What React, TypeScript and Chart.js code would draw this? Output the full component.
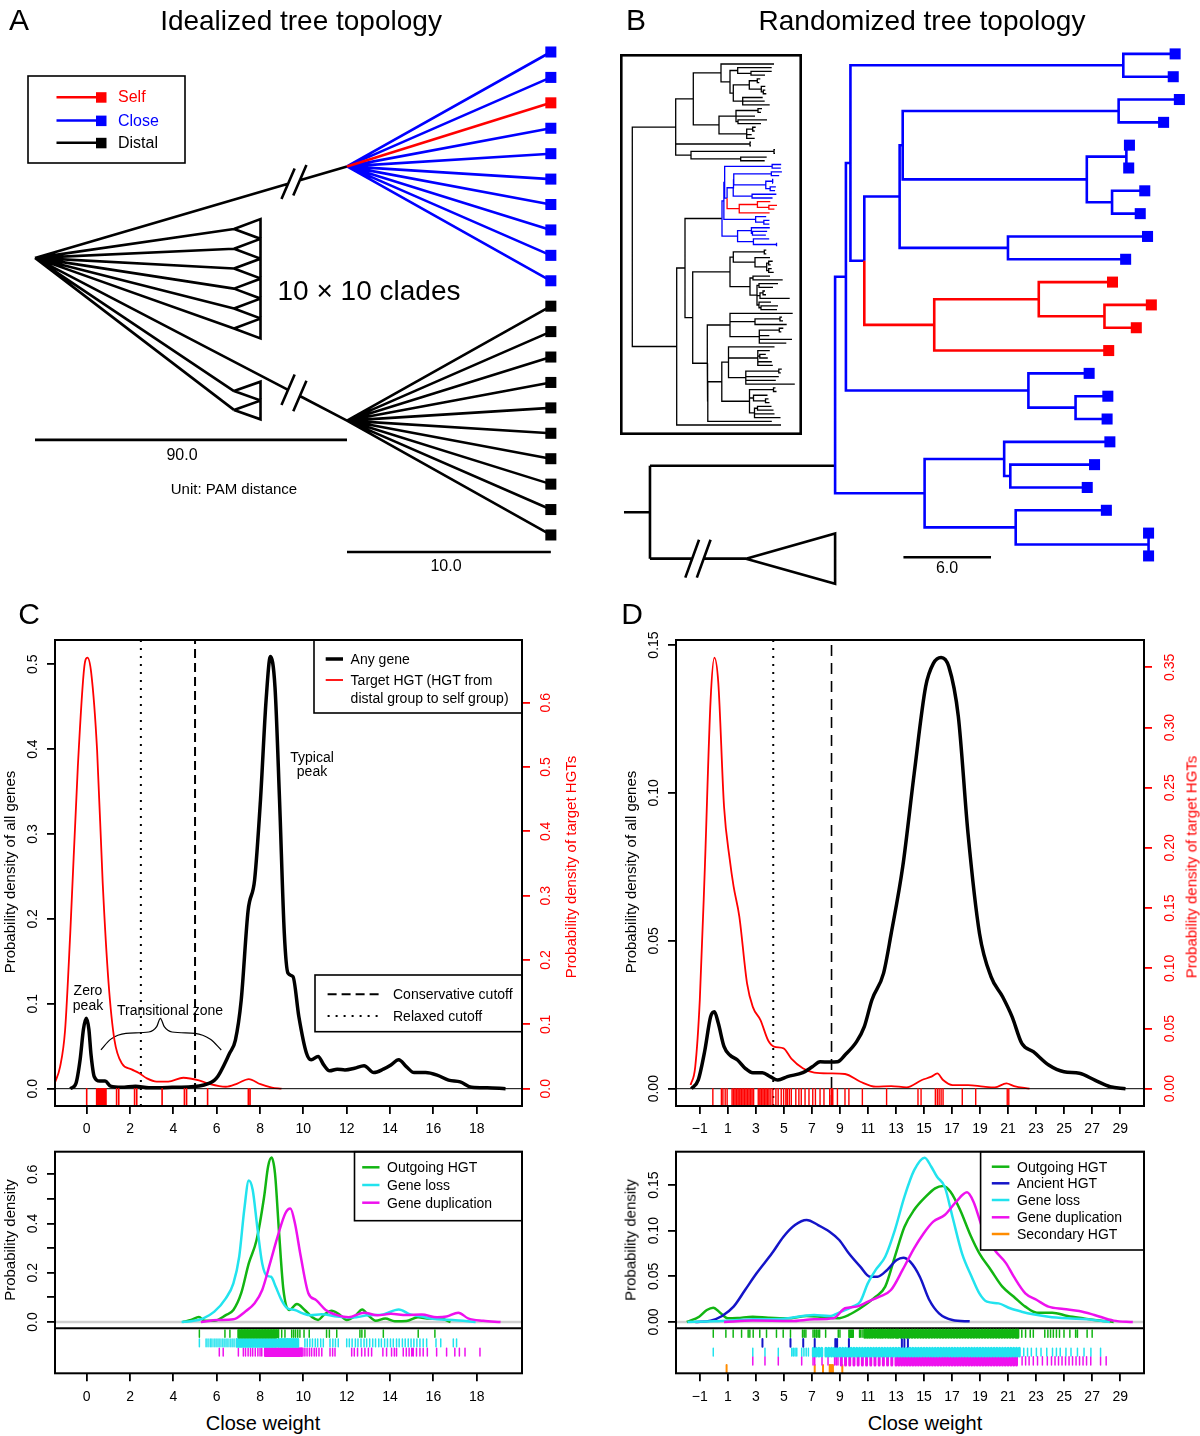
import React, { useEffect, useRef } from 'react';
import { Chart, registerables } from 'chart.js';

Chart.register(...registerables);

const FONT = "'Liberation Sans', Arial, Helvetica, sans-serif";
Chart.defaults.font.family = FONT;

const BLACK = '#000000';
const RED = '#FF0000';
const BLUE = '#0000FF';
const GREEN = '#12B512';
const CYAN = '#22E3EE';
const MAGENTA = '#EE11EE';
const NAVY = '#1414C8';
const ORANGE = '#FF8C00';
const GRAY = '#CFCFCF';

/* ======================= DATA ======================= */

// ---- Panel A : idealized tree ----
const A_DEEP_BRANCH = 90.0;
const A_TIP_BRANCH = 10.0;
const A_TIP_STRETCH = 5.88;
const A_CLOSE_COUNT = 10;
const A_DISTAL_COUNT = 10;
const A_SELF_INDEX = 2;
const A_ROOT_SLOT = 8.1;
const A_CLADE_APEX_SLOT = [6.96, 7.74, 8.52, 9.31, 10.09, 10.88, 13.34, 14.08];
const A_CLADE_HALF = [0.39, 0.39, 0.39, 0.39, 0.39, 0.39, 0.37, 0.37];
const A_CLADE_APEX_DIST = 57.4;
const A_CLADE_DEPTH = 7.65;
const A_BREAK_DIST = [73.0, 76.4];
const A_BAR_SLOTS = [15.26, 19.67];

// ---- Panel B : randomized tree (branch lengths in PAM) ----
const B_N12 = '(:3.55,:3.42)';
const B_D = '(((:4.16,:3.08):14.79,((:0.21,:0.16):2.71,(:2.24,:1.93):1.73):12.61):0.21,(:9.56,:8.06):7.42)';
const B_E = '((:5.05,(:3.21,:2.18):4.5):7.16,:11.95)';
const B_C = '(' + B_D + ':2.42,' + B_E + 'r:4.79)';
const B_A = '((' + B_N12 + ':18.69,' + B_C + ':0.95):0.31,(:4.16,(:2.21,:2.16):3.23):12.5)';
const B_Z = '((:7.24,(:5.77,:5.27):0.42):5.45,(:6.21,(:0,:0):9.1):6.24)';
const B_CLADE_NEWICK = '(' + B_A + 'b:0.74,' + B_Z + 'b:6.13)';
const B_LINK_SLOT = 18.05;
const B_OUT_NODE_X = -12.68;
const B_OUT_SLOT = 22.12;
const B_ROOT_STUB_X = -14.46;
const B_COLLAPSED_APEX_X = -6.1;
const B_COLLAPSED_HALF = 1.1;
const B_BREAK_X = [-9.79, -9.0];
const B_BAR = [4.68, 10.68];
const B_BAR_SLOT = 22.06;

// ---- Panel B inset : whole tree (layout units) ----
const INSET_N3 = '(:53,((:34,(:20.7,:14):13.3):7.7,(((:3,:2):8,(:4,(:2,:3):2):12):16,(:20,:22,:27):9.4):3.3):9)';
const INSET_N4 = '(((:4,:3):22,:19,(:29,:23):2):17,((:3,:2):6,:5,:8):27.7)';
const INSET_TOP = '((' + INSET_N3 + ':27.7,' + INSET_N4 + ':25.7):17.6,(:1,:1):74.3,((:1,:1):83,(:26,:24):49.7):15.3)';
const INSET_S1 = '(((:2,:2):31,(:15,((:4,:2):2,(:3,:5):2):11.7):21.7):3.3,((:17,:29.7):3,((:19,:14):2,((:2,:3):3,:29.7):3,(:12,(:17,:16):2):2):7):20)';
const INSET_S2 = '(:62.7,((:2,:3):25,:31.7):25,((:4,:2):20,:10,:32.7,:27):29.3)';
const INSET_S3 = '(:46,(:12,(:6,:8):2,:14,:15):29.3,((:3,:2):33,:33,:30,:49):17.3)';
const INSET_S4 = '((:2,:3):24,(:14,(:3,:4):12):4,((:14,:16):3,:20,:26):5)';
const INSET_Q4 = '(' + INSET_S3 + ':6.7,' + INSET_S4 + ':27.7)';
const INSET_Q3 = '(' + INSET_Q4 + ':14,:64)';
const INSET_Q2 = '(' + INSET_S2 + ':22.7,' + INSET_Q3 + ':0.5)';
const INSET_P = '(' + INSET_S1 + ':37.3,' + INSET_Q2 + ':14.6)';
const INSET_M = '(Z:37,' + INSET_P + ':7.7)';
const INSET_BOTTOM = '(' + INSET_M + ':8.3,:104.3)';
const INSET_NEWICK = '(' + INSET_TOP + ':43.4,' + INSET_BOTTOM + ':44.4)';
const INSET_CLADE_SCALE = 2.54;
const INSET_ROOT_X = 12.3;

// ---- Panel C top ----
const C_X_TICKS = [0, 2, 4, 6, 8, 10, 12, 14, 16, 18];
const C_Y_TICKS = [0, 0.1, 0.2, 0.3, 0.4, 0.5];
const C_Y2_TICKS = [0, 0.1, 0.2, 0.3, 0.4, 0.5, 0.6];
const C_RELAXED_CUTOFF = 2.5;
const C_CONSERVATIVE_CUTOFF = 5.0;
const C_ANY_GENE: [number, number][] = [
  [-0.76, 0], [-0.5, 0.006], [-0.3, 0.035], [-0.15, 0.07], [-0.02, 0.083], [0.1, 0.07], [0.2, 0.04], [0.35, 0.014],
  [0.6, 0.009], [0.85, 0.009], [1.1, 0.003], [1.6, 0.0016], [2.25, 0.003], [2.87, 0.001], [3.94, 0.0016], [4.82, 0.0024],
  [5.36, 0.004], [5.98, 0.012], [6.6, 0.042], [6.86, 0.057], [7.13, 0.104], [7.45, 0.21], [7.75, 0.246], [8.02, 0.34],
  [8.28, 0.458], [8.48, 0.509], [8.69, 0.473], [8.9, 0.34], [9.12, 0.183], [9.29, 0.136], [9.52, 0.132], [9.79, 0.085],
  [10.14, 0.042], [10.36, 0.034], [10.68, 0.038], [10.94, 0.028], [11.21, 0.021], [11.56, 0.023], [11.92, 0.022],
  [12.36, 0.024], [12.8, 0.027], [13.25, 0.019], [13.69, 0.023], [14.04, 0.028], [14.4, 0.034], [14.75, 0.026],
  [15.11, 0.019], [15.64, 0.019], [16.17, 0.016], [16.7, 0.01], [17.24, 0.008], [17.77, 0.0016], [18.48, 0.001], [19.33, 0],
];
const C_TARGET_HGT: [number, number][] = [
  [-1.47, 0.009], [-1.23, 0.034], [-1.0, 0.09], [-0.76, 0.241], [-0.41, 0.5], [-0.11, 0.656], [0.035, 0.67], [0.21, 0.646],
  [0.48, 0.526], [0.74, 0.319], [1.01, 0.164], [1.28, 0.076], [1.63, 0.039], [2.07, 0.03], [2.43, 0.024], [2.78, 0.016],
  [3.23, 0.011], [3.76, 0.011], [4.46, 0.017], [5.18, 0.013], [5.7, 0.007], [6.42, 0.003], [6.95, 0.008], [7.48, 0.015],
  [8.02, 0.007], [8.55, 0.0016], [8.99, 0],
];
const C_TARGET_RUG = [0, 0.46, 0.51, 0.58, 0.65, 0.71, 0.77, 0.83, 0.89, 1.38, 1.48, 2.21, 2.31, 3.48, 4.51, 4.61, 5.58, 7.46, 7.54];
const C_BRACE: [number, number][] = [
  [0.656, 0.0456], [1.1, 0.0581], [1.81, 0.0652], [2.87, 0.0668], [3.23, 0.0731], [3.4, 0.0829],
  [3.58, 0.0731], [3.94, 0.0668], [5.0, 0.0652], [5.71, 0.0581], [6.21, 0.0456],
];

// ---- Panel C bottom ----
const C2_Y_TICKS = [0, 0.1, 0.2, 0.3, 0.4, 0.5, 0.6];
const C2_Y_LABELS = [0, 0.2, 0.4, 0.6];
const C2_OUTGOING: [number, number][] = [
  [4.43, 0], [4.82, 0.008], [5.18, 0.02], [5.44, 0.005], [5.89, 0.005], [6.42, 0.028], [6.77, 0.049], [7.13, 0.117],
  [7.48, 0.238], [7.84, 0.333], [8.19, 0.51], [8.37, 0.631], [8.53, 0.668], [8.69, 0.604], [8.87, 0.374], [9.08, 0.13],
  [9.35, 0.049], [9.7, 0.073], [10.06, 0.049], [10.41, 0.019], [10.68, 0.008], [10.94, 0.028], [11.3, 0.046],
  [11.65, 0.031], [12.0, 0.008], [12.36, 0.022], [12.72, 0.051], [12.98, 0.028], [13.34, 0.005], [13.78, 0.014],
  [14.22, 0.003], [14.75, 0.004], [15.29, 0.019], [15.82, 0.014], [16.17, 0.018], [16.79, 0],
];
const C2_LOSS: [number, number][] = [
  [4.38, 0], [4.82, 0.003], [5.36, 0.014], [5.89, 0.042], [6.42, 0.096], [6.77, 0.157], [7.04, 0.266], [7.27, 0.455],
  [7.48, 0.575], [7.66, 0.537], [7.87, 0.388], [8.1, 0.238], [8.33, 0.187], [8.51, 0.184], [8.72, 0.144], [8.99, 0.089],
  [9.26, 0.056], [9.61, 0.049], [9.97, 0.035], [10.32, 0.027], [10.85, 0.031], [11.56, 0.022], [12.27, 0.018],
  [12.98, 0.027], [13.69, 0.031], [14.4, 0.051], [14.93, 0.031], [15.46, 0.022], [16.17, 0.011], [16.88, 0.008], [17.95, 0],
];
const C2_DUP: [number, number][] = [
  [5.27, 0], [6.06, 0.008], [6.77, 0.011], [7.31, 0.042], [7.75, 0.076], [8.1, 0.13], [8.46, 0.238], [8.81, 0.347],
  [9.17, 0.442], [9.4, 0.461], [9.61, 0.401], [9.88, 0.266], [10.23, 0.117], [10.59, 0.089], [11.03, 0.049],
  [11.56, 0.028], [12.09, 0.019], [12.8, 0.038], [13.42, 0.027], [14.04, 0.033], [14.75, 0.028], [15.46, 0.03],
  [16.17, 0.019], [16.61, 0.022], [17.15, 0.038], [17.6, 0.015], [18.3, 0.005], [19.1, 0],
];
const C2_OUT_RUG = [
  5.2, 6.38, 6.61, 9.0, 9.15, 9.46, 9.55, 9.64, 9.74, 9.84, 10.03, 10.27, 11.07, 11.2, 11.54, 12.61, 12.7, 12.84, 13.69,
  15.3, 16.07,
];
const C2_OUT_RUG_DENSE = [
  7.0, 7.07, 7.14, 7.21, 7.28, 7.35, 7.42, 7.49, 7.56, 7.63, 7.7, 7.77, 7.84, 7.91, 7.98, 8.05, 8.12, 8.19, 8.26, 8.33,
  8.4, 8.47, 8.54, 8.61, 8.68, 8.75, 8.84,
];
const C2_LOSS_RUG = [
  5.2, 5.51, 5.6, 5.7, 5.78, 5.88, 5.97, 6.06, 6.15, 6.25, 6.34, 6.43, 6.52, 6.62, 6.71, 6.8, 10.07, 10.18, 10.3, 10.42,
  10.55, 10.66, 10.8, 10.92, 11.23, 11.36, 11.48, 11.61, 12.0, 12.12, 12.25, 12.4, 12.52, 12.66, 12.8, 12.92, 13.06,
  13.2, 13.33, 13.48, 13.6, 13.75, 13.88, 14.02, 14.15, 14.3, 14.42, 14.57, 14.7, 14.84, 14.97, 15.1, 15.24, 15.38,
  15.53, 15.69, 16.12, 16.34, 16.92, 17.07,
];
const C2_LOSS_RUG_DENSE = [
  6.92, 6.99, 7.06, 7.13, 7.2, 7.27, 7.34, 7.41, 7.48, 7.55, 7.62, 7.69, 7.76, 7.83, 7.9, 7.97, 8.04, 8.11, 8.18, 8.25,
  8.32, 8.39, 8.46, 8.53, 8.6, 8.67, 8.74, 8.84, 8.92, 8.99, 9.06, 9.13, 9.2, 9.27, 9.34, 9.41, 9.48, 9.55, 9.62, 9.69, 9.76,
];
const C2_DUP_RUG = [
  6.12, 6.3, 7.0, 7.23, 7.33, 7.45, 7.56, 7.66, 7.78, 7.9, 8.0, 8.08, 9.98, 10.07, 10.17, 10.28, 10.38, 10.5, 10.6,
  10.72, 10.85, 11.23, 11.35, 11.46, 12.23, 12.35, 12.5, 12.69, 12.84, 13.0, 13.15, 13.67, 13.84, 14.07, 14.2, 14.3,
  14.61, 14.75, 14.88, 15.0, 15.07, 15.22, 15.38, 15.53, 15.72, 16.15, 16.61, 16.99, 17.2, 17.46, 18.15,
];
const C2_DUP_RUG_DENSE = [
  8.23, 8.3, 8.37, 8.44, 8.51, 8.58, 8.65, 8.72, 8.79, 8.86, 8.93, 9.0, 9.07, 9.14, 9.21, 9.28, 9.35, 9.42, 9.49, 9.56,
  9.63, 9.7, 9.77, 9.84, 9.92,
];

// ---- Panel D top ----
const D_X_TICKS = [-1, 1, 3, 5, 7, 9, 11, 13, 15, 17, 19, 21, 23, 25, 27, 29];
const D_Y_TICKS = [0, 0.05, 0.1, 0.15];
const D_Y2_TICKS = [0, 0.05, 0.1, 0.15, 0.2, 0.25, 0.3, 0.35];
const D_RELAXED_CUTOFF = 4.24;
const D_CONSERVATIVE_CUTOFF = 8.4;
const D_ANY_GENE: [number, number][] = [
  [-1.6, 0], [-1.11, 0.003], [-0.64, 0.013], [-0.23, 0.0243], [0.04, 0.026], [0.32, 0.0221], [0.73, 0.0142],
  [1.14, 0.0114], [1.69, 0.0097], [2.24, 0.0069], [2.78, 0.0054], [3.47, 0.0054], [4.02, 0.0041], [4.57, 0.0029],
  [5.25, 0.0041], [6.35, 0.0054], [7.03, 0.0074], [7.58, 0.0091], [8.27, 0.009], [8.82, 0.0091], [9.36, 0.0114],
  [10.19, 0.0159], [10.74, 0.021], [11.28, 0.03], [12.11, 0.039], [12.66, 0.0525], [13.48, 0.075], [14.3, 0.1066],
  [15.12, 0.136], [15.67, 0.1438], [16.22, 0.1458], [16.77, 0.1427], [17.45, 0.1258], [18.14, 0.0863], [18.96, 0.0525],
  [19.78, 0.0379], [20.61, 0.0311], [21.29, 0.0243], [21.98, 0.0153], [22.8, 0.0125], [23.9, 0.008], [24.99, 0.0057],
  [26.09, 0.0052], [27.19, 0.0029], [28.28, 0.0007], [29.38, 0],
];
const D_TARGET_HGT: [number, number][] = [
  [-1.66, 0.003], [-1.33, 0.018], [-1.0, 0.074], [-0.64, 0.184], [-0.23, 0.323], [0.04, 0.358], [0.32, 0.337],
  [0.73, 0.234], [1.14, 0.19], [1.41, 0.168], [1.82, 0.143], [2.37, 0.0875], [2.78, 0.068], [3.33, 0.057], [3.88, 0.04],
  [4.29, 0.035], [4.98, 0.0335], [5.53, 0.025], [6.35, 0.017], [7.17, 0.0133], [8.27, 0.0127], [9.36, 0.0122],
  [10.46, 0.0058], [11.56, 0.0017], [12.66, 0.0022], [13.75, 0.0011], [14.85, 0.0072], [15.53, 0.01], [15.95, 0.0127],
  [16.36, 0.0072], [17.04, 0.003], [18.14, 0.003], [19.24, 0.0017], [20.06, 0.0011], [20.88, 0.0044], [21.43, 0.0022],
  [22.53, 0],
];
const D_TARGET_RUG = [
  -0.07, 0.54, 0.65, 0.81, 0.95, 1.3, 1.41, 1.52, 1.63, 1.74, 1.85, 1.96, 2.07, 2.18, 2.29, 2.4, 2.51, 2.62, 2.73, 2.84,
  3.17, 3.28, 3.39, 3.5, 3.61, 3.72, 3.83, 3.94, 4.07, 4.21, 4.43, 4.59, 4.81, 4.98, 5.14, 5.25, 5.39, 5.53, 5.85, 6.07,
  6.24, 6.51, 6.79, 7.06, 7.25, 7.58, 7.86, 8.27, 8.4, 8.49, 8.82, 9.36, 9.64, 10.6, 12.33, 14.57, 14.79, 15.81, 15.95,
  16.08, 16.22, 16.36, 17.73, 18.69, 20.94, 21.05,
];

// ---- Panel D bottom ----
const D2_Y_TICKS = [0, 0.05, 0.1, 0.15];
const D2_OUTGOING: [number, number][] = [
  [-1.93, 0], [-1.05, 0.0058], [-0.5, 0.0131], [-0.04, 0.0157], [0.45, 0.0102], [1.0, 0.004], [1.68, 0.0044],
  [2.78, 0.0058], [3.88, 0.0047], [5.25, 0.004], [6.62, 0.0066], [7.71, 0.0055], [8.81, 0.004], [9.63, 0.0077],
  [10.45, 0.015], [11.55, 0.0277], [12.23, 0.0387], [12.92, 0.0715], [13.6, 0.104], [14.29, 0.1226], [15.11, 0.137],
  [15.79, 0.1464], [16.34, 0.149], [16.89, 0.1427], [17.58, 0.1226], [18.26, 0.097], [18.95, 0.0752], [19.77, 0.057],
  [20.59, 0.0387], [21.41, 0.0277], [22.23, 0.0168], [23.05, 0.0102], [24.15, 0.0102], [25.25, 0.0066], [26.34, 0.004],
  [27.16, 0.0022], [28.53, 0],
];
const D2_ANCIENT: [number, number][] = [
  [-1.33, 0], [-0.23, 0.0015], [0.59, 0.0066], [1.41, 0.0168], [2.23, 0.035], [3.05, 0.0533], [4.15, 0.0752],
  [4.97, 0.0934], [5.79, 0.1062], [6.62, 0.1117], [7.44, 0.1062], [8.26, 0.0989], [8.95, 0.0898], [9.63, 0.0752],
  [10.45, 0.0606], [11.14, 0.0496], [11.68, 0.0496], [12.37, 0.057], [13.05, 0.0679], [13.52, 0.0704], [14.01, 0.066],
  [14.7, 0.0496], [15.38, 0.0241], [16.07, 0.0095], [17.03, 0.0022], [18.26, 0.0007],
];
const D2_LOSS: [number, number][] = [
  [-1.88, 0], [0.04, 0.0007], [2.78, 0.0029], [4.97, 0.0036], [6.34, 0.0066], [7.16, 0.0077], [8.26, 0.0066],
  [9.08, 0.0113], [9.9, 0.0168], [10.45, 0.0223], [10.99, 0.0423], [11.55, 0.057], [12.23, 0.0715], [12.92, 0.1007],
  [13.6, 0.137], [14.29, 0.166], [15.05, 0.18], [15.52, 0.17], [15.93, 0.159], [16.48, 0.148], [17.03, 0.1153],
  [17.71, 0.0752], [18.4, 0.0496], [18.95, 0.0314], [19.49, 0.0223], [20.32, 0.0204], [21.14, 0.015], [21.96, 0.0113],
  [22.78, 0.0084], [23.88, 0.0058], [25.25, 0.004], [26.62, 0.0029], [28.26, 0],
];
const D2_DUP: [number, number][] = [
  [0.73, 0], [2.78, 0.0015], [5.52, 0.0011], [7.16, 0.0029], [8.53, 0.004], [9.36, 0.015], [10.18, 0.0168],
  [11.0, 0.0223], [11.82, 0.0277], [12.64, 0.035], [13.47, 0.057], [14.29, 0.0807], [14.97, 0.097], [15.66, 0.1099],
  [16.48, 0.1172], [17.3, 0.1318], [18.07, 0.142], [18.53, 0.1318], [19.22, 0.1007], [20.04, 0.0788], [20.86, 0.0642],
  [21.41, 0.0496], [22.23, 0.0314], [23.05, 0.0241], [23.88, 0.0168], [24.97, 0.0142], [26.07, 0.012], [27.16, 0.0077],
  [28.53, 0.0015], [29.9, 0],
];
const D2_OUT_RUG = [
  -0.04, 0.86, 1.38, 1.98, 2.45, 2.57, 2.81, 3.28, 3.76, 4.47, 4.95, 5.47, 6.33, 6.45, 6.57, 7.08, 7.2, 7.32, 7.44,
  7.55, 7.98, 8.88, 9.0, 9.64, 9.72, 9.8, 9.88, 9.95, 10.4, 10.5, 10.64, 21.98, 22.25, 22.58, 22.8, 23.62, 23.84, 24.03,
  24.23, 24.45, 24.67, 24.99, 25.41, 25.82, 25.95, 26.64, 27.0,
];
const D2_OUT_RUG_DENSE = [
  10.78, 10.95, 11.12, 11.3, 11.5, 11.7, 11.88, 12.05, 12.25, 12.45, 12.62, 12.8, 13.0, 13.15, 13.35, 13.55, 13.75,
  13.95, 14.15, 14.35, 14.55, 14.75, 14.95, 15.15, 15.35, 15.55, 15.75, 15.95, 16.15, 16.35, 16.55, 16.75, 16.95,
  17.15, 17.35, 17.55, 17.75, 17.95, 18.15, 18.35, 18.55, 18.75, 18.95, 19.15, 19.35, 19.55, 19.75, 19.95, 20.15,
  20.35, 20.55, 20.75, 20.95, 21.15, 21.35, 21.55, 21.7,
];
const D2_ANC_RUG = [3.47, 5.47, 6.38, 7.2, 8.67, 8.8, 9.64, 13.42, 13.6, 13.85];
const D2_LOSS_RUG = [
  -0.04, 2.78, 3.65, 4.6, 5.56, 5.68, 5.8, 5.92, 6.27, 6.43, 6.59, 6.75, 22.12, 22.39, 22.66, 23.02, 23.35, 23.76,
  24.17, 24.45, 24.72, 25.13, 25.49, 25.95, 26.42, 26.91, 27.6,
];
const D2_LOSS_RUG_DENSE = [
  7.1, 7.3, 7.5, 7.7, 8.0, 8.2, 8.4, 8.6, 8.8, 9.0, 9.2, 9.4, 9.6, 9.8, 10.0, 10.2, 10.4, 10.6, 10.8, 11.0, 11.2, 11.4,
  11.6, 11.8, 12.0, 12.2, 12.4, 12.6, 12.8, 13.0, 13.2, 13.4, 13.6, 13.8, 14.0, 14.2, 14.4, 14.6, 14.8, 15.0, 15.2,
  15.4, 15.6, 15.8, 16.0, 16.2, 16.4, 16.6, 16.8, 17.0, 17.2, 17.4, 17.6, 17.8, 18.0, 18.2, 18.4, 18.6, 18.8, 19.0,
  19.2, 19.4, 19.6, 19.8, 20.0, 20.2, 20.4, 20.6, 20.8, 21.0, 21.2, 21.4, 21.6, 21.8,
];
const D2_DUP_RUG = [
  2.78, 3.65, 4.6, 6.27, 7.08, 7.2, 7.72, 8.15, 8.62, 8.74, 8.86, 22.0, 22.25, 22.5, 22.8, 23.1, 23.45, 23.8, 24.1,
  24.35, 24.6, 24.85, 25.1, 25.35, 25.6, 25.85, 26.1, 26.35, 26.6, 26.9, 27.6, 28.0,
];
const D2_DUP_RUG_DENSE = [
  9.1, 9.4, 9.7, 10.0, 10.3, 10.6, 10.9, 11.2, 11.5, 11.8, 12.1, 12.4, 12.7, 13.0, 13.2, 13.4, 13.6, 13.8, 14.0, 14.2,
  14.4, 14.6, 14.8, 15.0, 15.2, 15.4, 15.6, 15.8, 16.0, 16.2, 16.4, 16.6, 16.8, 17.0, 17.2, 17.4, 17.6, 17.8, 18.0,
  18.2, 18.4, 18.6, 18.8, 19.0, 19.2, 19.4, 19.6, 19.8, 20.0, 20.2, 20.4, 20.6, 20.8, 21.0, 21.2, 21.4, 21.6,
];
const D2_SEC_RUG = [0.91, 7.2, 7.79, 8.27, 8.35, 8.43, 8.5, 9.17];

/* ======================= HELPERS ======================= */

type Pt = { x: number; y: number | null };

const pts = (pairs: [number, number][]): Pt[] => pairs.map(([x, y]) => ({ x, y }));
const addPath = (arr: Pt[], path: [number, number][]) => {
  path.forEach(([x, y]) => arr.push({ x, y }));
  arr.push({ x: path[path.length - 1][0], y: null });
};
const rug = (values: number[], y0: number, y1: number): Pt[] => {
  const out: Pt[] = [];
  values.forEach((v) => out.push({ x: v, y: y0 }, { x: v, y: y1 }, { x: v, y: null }));
  return out;
};
const mean = (a: number[]) => a.reduce((s, v) => s + v, 0) / a.length;

function ln(data: Pt[], color: string, width: number, extra: any = {}) {
  return {
    data, showLine: true, borderColor: color, backgroundColor: color, borderWidth: width,
    pointRadius: 0, pointHoverRadius: 0, pointHitRadius: 0, fill: false, tension: 0, spanGaps: false,
    borderCapStyle: 'butt', borderJoinStyle: 'round', ...extra,
  };
}
const SMOOTH = { cubicInterpolationMode: 'monotone', tension: 0.4 };
function squares(data: Pt[], color: string) {
  return { data, showLine: false, pointStyle: 'rect', pointRadius: 7.8, pointHoverRadius: 7.8,
    backgroundColor: color, borderColor: color, borderWidth: 0, pointBorderWidth: 0 };
}

// newick-like tree helpers
function parseNewick(s: string) {
  let i = 0;
  const node = (): any => {
    const n: any = { ch: [], bl: 0, col: '' };
    if (s[i] === '(') {
      i++;
      n.ch.push(node());
      while (s[i] === ',') { i++; n.ch.push(node()); }
      i++;
    }
    let lab = '';
    while (i < s.length && /[A-Za-z]/.test(s[i])) lab += s[i++];
    n.col = lab;
    if (s[i] === ':') {
      i++;
      let num = '';
      while (i < s.length && /[0-9.]/.test(s[i])) num += s[i++];
      n.bl = parseFloat(num);
    }
    return n;
  };
  return node();
}
function scaleTree(n: any, k: number) { n.bl *= k; n.ch.forEach((c: any) => scaleTree(c, k)); return n; }
function embed(n: any, key: string, sub: any) {
  if (n.col === key) { n.ch = sub.ch; n.col = ''; }
  n.ch.forEach((c: any) => embed(c, key, sub));
}
function layoutTree(root: any, x0: number) {
  let leaf = 0;
  const leaves: any[] = [];
  const rec = (n: any, px: number, pc: string) => {
    n.x = px + n.bl;
    n.c = n.col || pc;
    if (!n.ch.length) { n.y = leaf++; leaves.push(n); }
    else {
      n.ch.forEach((c: any) => rec(c, n.x, n.c));
      n.y = (n.ch[0].y + n.ch[n.ch.length - 1].y) / 2;
    }
  };
  root.bl = 0;
  rec(root, x0, 'k');
  return leaves;
}
function treeSegs(root: any) {
  const out: any = { k: [], b: [], r: [] };
  const rec = (n: any) => n.ch.forEach((c: any) => {
    out[c.c].push({ x: n.x, y: n.y }, { x: n.x, y: c.y }, { x: c.x, y: c.y }, { x: c.x, y: null });
    rec(c);
  });
  rec(root);
  return out;
}

// canvas decoration helpers
function strokeBox(ctx: any, a: any, lw = 2) {
  ctx.save(); ctx.setLineDash([]); ctx.lineWidth = lw; ctx.strokeStyle = BLACK;
  ctx.strokeRect(a.left, a.top, a.right - a.left, a.bottom - a.top); ctx.restore();
}
function legendFrame(ctx: any, x1: number, y1: number, x2: number, y2: number) {
  ctx.save(); ctx.fillStyle = '#fff'; ctx.fillRect(x1, y1, x2 - x1, y2 - y1);
  ctx.setLineDash([]); ctx.lineWidth = 1.6; ctx.strokeStyle = BLACK; ctx.strokeRect(x1, y1, x2 - x1, y2 - y1); ctx.restore();
}
function sample(ctx: any, x1: number, x2: number, y: number, color: string, lw: number, dash: number[] = []) {
  ctx.save(); ctx.beginPath(); ctx.setLineDash(dash); ctx.strokeStyle = color; ctx.lineWidth = lw;
  ctx.moveTo(x1, y); ctx.lineTo(x2, y); ctx.stroke(); ctx.restore();
}
function rotLabels(ctx: any, chart: any, id: string, values: number[], digits: number, x: number, color: string) {
  const s = chart.scales[id];
  ctx.save();
  ctx.fillStyle = color; ctx.font = `14px ${FONT}`; ctx.textAlign = 'center'; ctx.textBaseline = 'middle';
  values.forEach((v) => {
    const y = s.getPixelForValue(v);
    ctx.save(); ctx.translate(x, y); ctx.rotate(-Math.PI / 2); ctx.fillText(v.toFixed(digits), 0, 1); ctx.restore();
  });
  ctx.restore();
}
const decor = (id: string, fn: (ctx: any, chart: any, a: any) => void) => ({
  id,
  afterDatasetsDraw(chart: any) { const ctx = chart.ctx; ctx.save(); fn(ctx, chart, chart.chartArea); ctx.restore(); },
});

const BASE = {
  responsive: false, maintainAspectRatio: false, animation: false, devicePixelRatio: 1, events: [],
  plugins: { legend: { display: false }, tooltip: { enabled: false }, title: { display: false } },
};

const fmtX = (v: number) => (v < 0 ? '\u2212' + Math.abs(v) : String(v));
function xScale(min: number, max: number, ticks: number[], height: number) {
  return {
    type: 'linear', position: 'bottom', min, max,
    afterBuildTicks: (s: any) => { s.ticks = ticks.map((v) => ({ value: v })); },
    afterFit: (s: any) => { s.height = height; },
    ticks: { autoSkip: false, maxRotation: 0, minRotation: 0, color: BLACK, font: { size: 14, family: FONT }, padding: 7,
      callback: (v: any) => fmtX(Number(v)) },
    grid: { drawOnChartArea: false, drawTicks: true, tickLength: 8, color: BLACK, lineWidth: 1.8 },
    border: { display: false },
  };
}
function yScale(position: string, min: number, max: number, ticks: number[], width: number, color: string) {
  return {
    type: 'linear', position, min, max,
    afterBuildTicks: (s: any) => { s.ticks = ticks.map((v) => ({ value: v })); },
    afterFit: (s: any) => { s.width = width; },
    ticks: { display: false },
    grid: { drawOnChartArea: false, drawTicks: true, tickLength: 8, color, lineWidth: 1.8 },
    border: { display: false },
  };
}
const hidden = (xmin: number, xmax: number, ymin: number, ymax: number) => ({
  x: { type: 'linear', display: false, min: xmin, max: xmax },
  y: { type: 'linear', display: false, min: ymin, max: ymax, reverse: true },
});

/* ======================= CHARTS ======================= */

function makeA() {
  const tipX = A_DEEP_BRANCH + A_TIP_BRANCH * A_TIP_STRETCH;
  const closeSlots = Array.from({ length: A_CLOSE_COUNT }, (_, i) => i);
  const distalSlots = Array.from({ length: A_DISTAL_COUNT }, (_, i) => A_CLOSE_COUNT + i);
  const upper = { x: A_DEEP_BRANCH, y: mean(closeSlots) };
  const lower = { x: A_DEEP_BRANCH, y: mean(distalSlots) };
  const root = { x: 0, y: A_ROOT_SLOT };
  const black: Pt[] = [], blue: Pt[] = [], red: Pt[] = [];
  A_CLADE_APEX_SLOT.forEach((s, i) => {
    const h = A_CLADE_HALF[i];
    const e = A_CLADE_APEX_DIST + A_CLADE_DEPTH;
    addPath(black, [[root.x, root.y], [A_CLADE_APEX_DIST, s]]);
    addPath(black, [[A_CLADE_APEX_DIST, s], [e, s - h], [e, s + h], [A_CLADE_APEX_DIST, s]]);
  });
  [upper, lower].forEach((node) => {
    const at = (x: number) => root.y + (node.y - root.y) * (x / node.x);
    const [b1, b2] = A_BREAK_DIST;
    addPath(black, [[root.x, root.y], [b1, at(b1)]]);
    addPath(black, [[b2, at(b2)], [node.x, node.y]]);
    A_BREAK_DIST.forEach((bx) => addPath(black, [[bx - 1.9, at(bx) + 0.6], [bx + 1.9, at(bx) - 0.6]]));
  });
  closeSlots.forEach((s) => addPath(s === A_SELF_INDEX ? red : blue, [[upper.x, upper.y], [tipX, s]]));
  distalSlots.forEach((s) => addPath(black, [[lower.x, lower.y], [tipX, s]]));
  addPath(black, [[0, A_BAR_SLOTS[0]], [A_DEEP_BRANCH, A_BAR_SLOTS[0]]]);
  addPath(black, [[A_DEEP_BRANCH, A_BAR_SLOTS[1]], [tipX, A_BAR_SLOTS[1]]]);
  const sq = (slots: number[]) => slots.map((s) => ({ x: tipX, y: s }));
  return {
    type: 'scatter',
    data: {
      datasets: [
        squares(sq(closeSlots.filter((s) => s === A_SELF_INDEX)), RED),
        squares(sq(closeSlots.filter((s) => s !== A_SELF_INDEX)), BLUE),
        squares(sq(distalSlots), BLACK),
        ln(red, RED, 2.6, { borderJoinStyle: 'miter' }),
        ln(blue, BLUE, 2.6, { borderJoinStyle: 'miter' }),
        ln(black, BLACK, 2.6, { borderJoinStyle: 'miter' }),
      ],
    },
    options: { ...BASE, layout: { padding: 0, autoPadding: false }, scales: hidden(-10.096, 162.98, -2.0456, 21.165) },
    plugins: [decor('aLegend', (ctx) => {
      legendFrame(ctx, 28, 76, 185, 163);
      const rows: [number, string][] = [[97.2, RED], [120.6, BLUE], [142.8, BLACK]];
      rows.forEach(([y, c]) => {
        sample(ctx, 56.5, 100, y, c, 2.5);
        ctx.fillStyle = c; ctx.fillRect(96, y - 5, 10.5, 10.5);
      });
    })],
  };
}

function makeB() {
  const tree = parseNewick(B_CLADE_NEWICK);
  const leaves = layoutTree(tree, 0);
  const segs = treeSegs(tree);
  const black: Pt[] = [];
  const stubY = (B_LINK_SLOT + B_OUT_SLOT) / 2;
  addPath(black, [[B_ROOT_STUB_X, stubY], [B_OUT_NODE_X, stubY]]);
  addPath(black, [[B_OUT_NODE_X, B_LINK_SLOT], [B_OUT_NODE_X, B_OUT_SLOT]]);
  addPath(black, [[B_OUT_NODE_X, B_LINK_SLOT], [0, B_LINK_SLOT]]);
  addPath(black, [[B_OUT_NODE_X, B_OUT_SLOT], [B_BREAK_X[0], B_OUT_SLOT]]);
  addPath(black, [[B_BREAK_X[1], B_OUT_SLOT], [B_COLLAPSED_APEX_X, B_OUT_SLOT]]);
  B_BREAK_X.forEach((bx) => addPath(black, [[bx - 0.47, B_OUT_SLOT + 0.83], [bx + 0.47, B_OUT_SLOT - 0.83]]));
  addPath(black, [[B_COLLAPSED_APEX_X, B_OUT_SLOT], [0, B_OUT_SLOT - B_COLLAPSED_HALF], [0, B_OUT_SLOT + B_COLLAPSED_HALF],
    [B_COLLAPSED_APEX_X, B_OUT_SLOT]]);
  addPath(black, [[B_BAR[0], B_BAR_SLOT], [B_BAR[1], B_BAR_SLOT]]);
  const leafPts = (c: string) => leaves.filter((l: any) => l.c === c).map((l: any) => ({ x: l.x, y: l.y }));
  return {
    type: 'scatter',
    data: {
      datasets: [
        squares(leafPts('r'), RED),
        squares(leafPts('b'), BLUE),
        ln(segs.r, RED, 2.6, { borderJoinStyle: 'miter' }),
        ln(segs.b, BLUE, 2.6, { borderJoinStyle: 'miter' }),
        ln(black, BLACK, 2.6, { borderJoinStyle: 'miter' }),
      ],
    },
    options: { ...BASE, layout: { padding: 0, autoPadding: false }, scales: hidden(-16.103, 24.993, -2.362, 23.493) },
  };
}

const INSET_W = 182, INSET_H = 381;
function makeInset() {
  const tree = parseNewick(INSET_NEWICK);
  const clade = scaleTree(parseNewick(B_CLADE_NEWICK), INSET_CLADE_SCALE);
  embed(tree, 'Z', clade);
  const leaves = layoutTree(tree, INSET_ROOT_X);
  const segs = treeSegs(tree);
  const step = (INSET_H - 20) / (leaves.length - 1);
  return {
    type: 'scatter',
    data: {
      datasets: [
        ln(segs.r, RED, 1.3, { borderJoinStyle: 'miter' }),
        ln(segs.b, BLUE, 1.3, { borderJoinStyle: 'miter' }),
        ln(segs.k, BLACK, 1.3, { borderJoinStyle: 'miter' }),
      ],
    },
    options: { ...BASE, layout: { padding: 0, autoPadding: false },
      scales: hidden(0, INSET_W, -10 / step, (INSET_H - 10) / step) },
    plugins: [decor('insetBox', (ctx) => {
      ctx.lineWidth = 2.6; ctx.strokeStyle = BLACK; ctx.strokeRect(1.3, 1.3, INSET_W - 2.6, INSET_H - 2.6);
    })],
  };
}

function makeC1() {
  const xmin = -1.463, xmax = 20.09, ymin = -0.0204, ymax = 0.5285;
  return {
    type: 'scatter',
    data: {
      datasets: [
        ln(rug(C_TARGET_RUG, 0, ymin), RED, 1.6),
        ln([{ x: xmin, y: 0 }, { x: xmax, y: 0 }], BLACK, 1),
        ln(pts(C_ANY_GENE), BLACK, 3.5, SMOOTH),
        ln(pts(C_TARGET_HGT), RED, 1.8, { ...SMOOTH, yAxisID: 'y2' }),
        ln([{ x: C_RELAXED_CUTOFF, y: ymin }, { x: C_RELAXED_CUTOFF, y: ymax }], BLACK, 2, { borderDash: [2, 6] }),
        ln([{ x: C_CONSERVATIVE_CUTOFF, y: ymin }, { x: C_CONSERVATIVE_CUTOFF, y: ymax }], BLACK, 2, { borderDash: [9, 5] }),
        ln(pts(C_BRACE), BLACK, 1.2, SMOOTH),
      ],
    },
    options: {
      ...BASE,
      layout: { padding: { top: 40, left: 0, right: 0, bottom: 0 }, autoPadding: false },
      scales: {
        x: xScale(xmin, xmax, C_X_TICKS, 34),
        y: yScale('left', ymin, ymax, C_Y_TICKS, 55, BLACK),
        y2: yScale('right', -0.0269, 0.6975, C_Y2_TICKS, 78, RED),
      },
    },
    plugins: [decor('c1', (ctx, chart, a) => {
      legendFrame(ctx, 314, a.top, a.right, 113);
      sample(ctx, 325.7, 343, 59, BLACK, 3.5);
      sample(ctx, 325.7, 343, 80, RED, 1.8);
      legendFrame(ctx, 315, 375, a.right, 431.7);
      sample(ctx, 327.6, 383.3, 394.3, BLACK, 2, [9, 5]);
      sample(ctx, 327.6, 383.3, 416, BLACK, 2, [2, 6]);
      strokeBox(ctx, a);
      rotLabels(ctx, chart, 'y', C_Y_TICKS, 1, a.left - 23, BLACK);
      rotLabels(ctx, chart, 'y2', C_Y2_TICKS, 1, a.right + 23, RED);
    })],
  };
}

function makeC2() {
  const xmin = -1.463, xmax = 20.09;
  const rows = { g: [-0.0325, -0.0622], c: [-0.0691, -0.1004], m: [-0.1069, -0.1382] };
  return {
    type: 'scatter',
    data: {
      datasets: [
        ln(rug(C2_OUT_RUG, rows.g[0], rows.g[1]), GREEN, 1.5),
        ln(rug(C2_OUT_RUG_DENSE, rows.g[0], rows.g[1]), GREEN, 2.2),
        ln(rug(C2_LOSS_RUG, rows.c[0], rows.c[1]), CYAN, 1.5),
        ln(rug(C2_LOSS_RUG_DENSE, rows.c[0], rows.c[1]), CYAN, 2.2),
        ln(rug(C2_DUP_RUG, rows.m[0], rows.m[1]), MAGENTA, 1.5),
        ln(rug(C2_DUP_RUG_DENSE, rows.m[0], rows.m[1]), MAGENTA, 2.2),
        ln([{ x: xmin, y: -0.0257 }, { x: xmax, y: -0.0257 }], BLACK, 2),
        ln(pts(C2_DUP), MAGENTA, 2.5, SMOOTH),
        ln(pts(C2_LOSS), CYAN, 2.5, SMOOTH),
        ln(pts(C2_OUTGOING), GREEN, 2.5, SMOOTH),
        ln([{ x: xmin, y: 0 }, { x: xmax, y: 0 }], GRAY, 2.5),
      ],
    },
    options: {
      ...BASE,
      layout: { padding: { top: 11.7, left: 0, right: 78, bottom: 0 }, autoPadding: false },
      scales: {
        x: xScale(xmin, xmax, C_X_TICKS, 36.7),
        y: yScale('left', -0.2085, 0.692, C2_Y_TICKS, 55, BLACK),
      },
    },
    plugins: [decor('c2', (ctx, chart, a) => {
      legendFrame(ctx, 354.5, a.top, a.right, 80.7);
      sample(ctx, 362.2, 379.5, 27.3, GREEN, 2.5);
      sample(ctx, 362.2, 379.5, 45, CYAN, 2.5);
      sample(ctx, 362.2, 379.5, 62.7, MAGENTA, 2.5);
      strokeBox(ctx, a);
      rotLabels(ctx, chart, 'y', C2_Y_LABELS, 1, a.left - 23, BLACK);
    })],
  };
}

function makeD1() {
  const xmin = -2.7, xmax = 30.7, ymin = -0.00585, ymax = 0.1517;
  return {
    type: 'scatter',
    data: {
      datasets: [
        ln(rug(D_TARGET_RUG, 0, ymin), RED, 1.4),
        ln([{ x: xmin, y: 0 }, { x: xmax, y: 0 }], BLACK, 1),
        ln(pts(D_ANY_GENE), BLACK, 3.5, SMOOTH),
        ln(pts(D_TARGET_HGT), RED, 1.8, { ...SMOOTH, yAxisID: 'y2' }),
        ln([{ x: D_RELAXED_CUTOFF, y: ymin }, { x: D_RELAXED_CUTOFF, y: ymax }], BLACK, 2, { borderDash: [2, 6] }),
        ln([{ x: D_CONSERVATIVE_CUTOFF, y: ymin }, { x: D_CONSERVATIVE_CUTOFF, y: ymax }], BLACK, 1.6, { borderDash: [11, 7] }),
      ],
    },
    options: {
      ...BASE,
      layout: { padding: { top: 40, left: 0, right: 0, bottom: 0 }, autoPadding: false },
      scales: {
        x: xScale(xmin, xmax, D_X_TICKS, 34),
        y: yScale('left', ymin, ymax, D_Y_TICKS, 76, BLACK),
        y2: yScale('right', -0.01437, 0.3727, D_Y2_TICKS, 56, RED),
      },
    },
    plugins: [decor('d1', (ctx, chart, a) => {
      strokeBox(ctx, a);
      rotLabels(ctx, chart, 'y', D_Y_TICKS, 2, a.left - 23, BLACK);
      rotLabels(ctx, chart, 'y2', D_Y2_TICKS, 2, a.right + 25, RED);
    })],
  };
}

function makeD2() {
  const xmin = -2.7, xmax = 30.7;
  const rows = { g: [-0.00876, -0.01675], b: [-0.0186, -0.027], c: [-0.0288, -0.0372], m: [-0.038, -0.0471], o: [-0.0471, -0.0555] };
  return {
    type: 'scatter',
    data: {
      datasets: [
        ln(rug(D2_OUT_RUG, rows.g[0], rows.g[1]), GREEN, 1.5),
        ln(rug(D2_OUT_RUG_DENSE, rows.g[0], rows.g[1]), GREEN, 3.0),
        ln(rug(D2_ANC_RUG, rows.b[0], rows.b[1]), NAVY, 2),
        ln(rug(D2_LOSS_RUG, rows.c[0], rows.c[1]), CYAN, 1.5),
        ln(rug(D2_LOSS_RUG_DENSE, rows.c[0], rows.c[1]), CYAN, 3.0),
        ln(rug(D2_DUP_RUG, rows.m[0], rows.m[1]), MAGENTA, 1.5),
        ln(rug(D2_DUP_RUG_DENSE, rows.m[0], rows.m[1]), MAGENTA, 3.0),
        ln(rug(D2_SEC_RUG, rows.o[0], rows.o[1]), ORANGE, 2),
        ln([{ x: xmin, y: -0.0069 }, { x: xmax, y: -0.0069 }], BLACK, 2),
        ln(pts(D2_DUP), MAGENTA, 2.5, SMOOTH),
        ln(pts(D2_LOSS), CYAN, 2.5, SMOOTH),
        ln(pts(D2_ANCIENT), NAVY, 2.5, SMOOTH),
        ln(pts(D2_OUTGOING), GREEN, 2.5, SMOOTH),
        ln([{ x: xmin, y: 0 }, { x: xmax, y: 0 }], GRAY, 2.5),
      ],
    },
    options: {
      ...BASE,
      layout: { padding: { top: 11.7, left: 0, right: 56, bottom: 0 }, autoPadding: false },
      scales: {
        x: xScale(xmin, xmax, D_X_TICKS, 36.7),
        y: yScale('left', -0.0562, 0.1865, D2_Y_TICKS, 76, BLACK),
      },
    },
    plugins: [decor('d2', (ctx, chart, a) => {
      legendFrame(ctx, 380.6, a.top, a.right, 110);
      const legendRows: [number, string][] = [[26.7, GREEN], [43.3, NAVY], [60, CYAN], [77.3, MAGENTA], [94, ORANGE]];
      legendRows.forEach(([y, c]) => sample(ctx, 391.8, 409.4, y, c, 2.5));
      strokeBox(ctx, a);
      rotLabels(ctx, chart, 'y', D2_Y_TICKS, 2, a.left - 23, BLACK);
    })],
  };
}

/* ======================= COMPONENTS ======================= */

function ChartCanvas({ left, top, width, height, make }: any) {
  const ref = useRef<HTMLCanvasElement>(null);
  useEffect(() => {
    const chart = new Chart(ref.current as HTMLCanvasElement, make());
    return () => chart.destroy();
  }, []);
  return <canvas ref={ref} width={width} height={height} style={{ position: 'absolute', left, top, width, height }} />;
}

function Txt({ x, y, s = 14, c = BLACK, r = 0, left = false, children }: any) {
  return (
    <div style={{
      position: 'absolute', left: x, top: y, fontSize: s, color: c, lineHeight: 1, whiteSpace: 'nowrap',
      fontFamily: FONT, transform: `translate(${left ? '0' : '-50%'}, -50%) rotate(${r}deg)`,
    }}>{children}</div>
  );
}

export default function App() {
  return (
    <div style={{ position: 'absolute', left: 0, top: 0, width: 1200, height: 1436, background: '#fff', overflow: 'hidden' }}>
      <ChartCanvas left={0} top={0} width={600} height={590} make={makeA} />
      <ChartCanvas left={600} top={0} width={600} height={590} make={makeB} />
      <ChartCanvas left={620} top={54} width={INSET_W} height={INSET_H} make={makeInset} />
      <ChartCanvas left={0} top={600} width={600} height={540} make={makeC1} />
      <ChartCanvas left={0} top={1140} width={600} height={270} make={makeC2} />
      <ChartCanvas left={600} top={600} width={600} height={540} make={makeD1} />
      <ChartCanvas left={600} top={1140} width={600} height={270} make={makeD2} />

      <Txt x={19} y={20} s={30}>A</Txt>
      <Txt x={636} y={20} s={30}>B</Txt>
      <Txt x={29} y={614} s={30}>C</Txt>
      <Txt x={632} y={614} s={30}>D</Txt>
      <Txt x={301} y={21} s={28}>Idealized tree topology</Txt>
      <Txt x={922} y={21} s={28}>Randomized tree topology</Txt>

      <Txt x={118} y={97} s={16} c={RED} left>Self</Txt>
      <Txt x={118} y={121} s={16} c={BLUE} left>Close</Txt>
      <Txt x={118} y={143} s={16} left>Distal</Txt>
      <Txt x={369} y={291} s={28}>10 × 10 clades</Txt>
      <Txt x={182} y={455} s={16}>90.0</Txt>
      <Txt x={234} y={488} s={15}>Unit: PAM distance</Txt>
      <Txt x={446} y={566} s={16}>10.0</Txt>
      <Txt x={947} y={568} s={16}>6.0</Txt>

      <Txt x={9} y={872} s={15} r={-90}>Probability density of all genes</Txt>
      <Txt x={570} y={867} s={15} r={-90} c={RED}>Probability density of target HGTs</Txt>
      <Txt x={350.6} y={659} left>Any gene</Txt>
      <Txt x={350.6} y={680} left>Target HGT (HGT from</Txt>
      <Txt x={350.6} y={698} left>distal group to self group)</Txt>
      <Txt x={393} y={994} left>Conservative cutoff</Txt>
      <Txt x={393} y={1016} left>Relaxed cutoff</Txt>
      <Txt x={88} y={990}>Zero</Txt>
      <Txt x={88} y={1005}>peak</Txt>
      <Txt x={170} y={1010}>Transitional zone</Txt>
      <Txt x={312} y={757}>Typical</Txt>
      <Txt x={312} y={771}>peak</Txt>

      <Txt x={9} y={1240} s={15} r={-90}>Probability density</Txt>
      <Txt x={387} y={1167} left>Outgoing HGT</Txt>
      <Txt x={387} y={1185} left>Gene loss</Txt>
      <Txt x={387} y={1203} left>Gene duplication</Txt>
      <Txt x={263} y={1423} s={20}>Close weight</Txt>

      <Txt x={630} y={872} s={15} r={-90}>Probability density of all genes</Txt>
      <Txt x={1191} y={867} s={15} r={-90} c={RED}>Probability density of target HGTs</Txt>
      <Txt x={630} y={1240} s={15} r={-90}>Probability density</Txt>
      <Txt x={1017} y={1167} left>Outgoing HGT</Txt>
      <Txt x={1017} y={1183} left>Ancient HGT</Txt>
      <Txt x={1017} y={1200} left>Gene loss</Txt>
      <Txt x={1017} y={1217} left>Gene duplication</Txt>
      <Txt x={1017} y={1234} left>Secondary HGT</Txt>
      <Txt x={925} y={1423} s={20}>Close weight</Txt>
    </div>
  );
}
